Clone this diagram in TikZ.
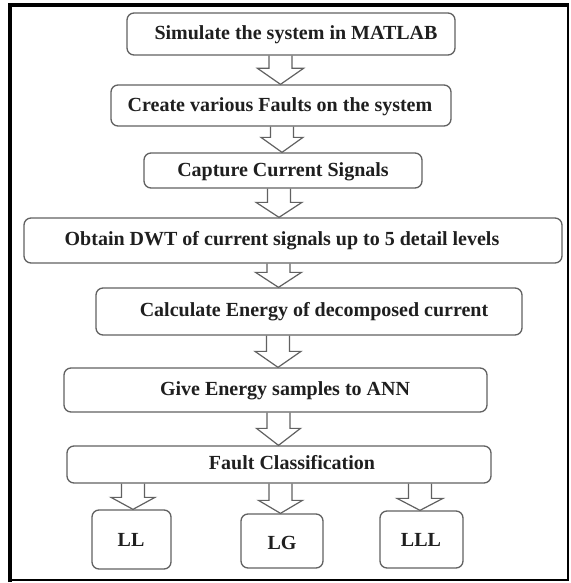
\documentclass[tikz,border=0pt]{standalone}
\usepackage{fontspec}
\setmainfont{Liberation Serif}
\usetikzlibrary{calc}
\tikzset{
  boxstyle/.style={draw=black!62, line width=1.3pt, rounded corners=7pt, inner sep=0pt},
  lbl/.style={font=\fontsize{20}{24}\selectfont\bfseries, text=black!88, inner sep=0pt},
  blockarr/.style={draw=black!62, line width=1.2pt, line join=miter},
}
\newcommand\blockarrow[5]{%
  \draw[blockarr] let \p1=(#2.south), \p2=(#3.north) in
    ({#1pt-11.5pt},\y1) -- ({#1pt-11.5pt},{\y2+#5pt}) -- ({#1pt-#4pt},{\y2+#5pt})
    -- (#1pt,\y2) -- ({#1pt+#4pt},{\y2+#5pt}) -- ({#1pt+11.5pt},{\y2+#5pt})
    -- ({#1pt+11.5pt},\y1);
}
\begin{document}
\begin{tikzpicture}[x=1pt,y=-1pt]
\useasboundingbox (0,0) rectangle (570,583);
\fill[white] (0,0) rectangle (570,583);
% frame
\draw[line width=1.5pt] (568,5) -- (568,580) -- (9.5,580);
\draw[line width=4pt] (9.5,582) -- (9.5,5) -- (569,5);
% boxes
\node[boxstyle, minimum width=328pt, minimum height=42pt] (b1) at (291,34) {};
\node[boxstyle, minimum width=340pt, minimum height=41pt] (b2) at (281,105.5) {};
\node[boxstyle, minimum width=278pt, minimum height=35pt] (b3) at (283,170.5) {};
\node[boxstyle, minimum width=538pt, minimum height=45pt] (b4) at (293,240.5) {};
\node[boxstyle, minimum width=426pt, minimum height=47pt] (b5) at (309,311.5) {};
\node[boxstyle, minimum width=423pt, minimum height=44pt] (b6) at (275.5,390) {};
\node[boxstyle, minimum width=424pt, minimum height=37pt] (b7) at (279,464.5) {};
\node[boxstyle, minimum width=79pt, minimum height=59pt] (ll) at (131.5,539.5) {};
\node[boxstyle, minimum width=82pt, minimum height=54pt] (lg) at (282,541) {};
\node[boxstyle, minimum width=83pt, minimum height=57pt] (lll) at (421.5,539.5) {};
% texts
\node[lbl] (t1) at (296,35) {Simulate the system in MATLAB};
\node[lbl] (t2) at (280,107) {Create various Faults on the system};
\node[lbl] (t3) at (283,172) {Capture Current Signals};
\node[lbl] (t4) at (282,241) {Obtain DWT of current signals up to 5 detail levels};
\node[lbl] (t5) at (314,312) {Calculate Energy of decomposed current};
\node[lbl] (t6) at (285,391) {Give Energy samples to ANN};
\node[lbl] (t7) at (292,463) {Fault Classification};
\node[lbl] (tll) at (131,540) {LL};
\node[lbl] (tlg) at (282,543) {LG};
\node[lbl] (tlll) at (421,540) {LLL};
% arrows
\blockarrow{280.5}{b1}{b2}{23}{16}
\blockarrow{282}{b2}{b3}{21}{15}
\blockarrow{279}{b3}{b4}{23}{15}
\blockarrow{278.5}{b4}{b5}{23}{15}
\blockarrow{278}{b5}{b6}{23}{16}
\blockarrow{278.5}{b6}{b7}{22}{17}
\blockarrow{133}{b7}{ll}{22}{12}
\blockarrow{280.5}{b7}{lg}{22}{13}
\blockarrow{420}{b7}{lll}{23}{12}
\end{tikzpicture}
\end{document}
